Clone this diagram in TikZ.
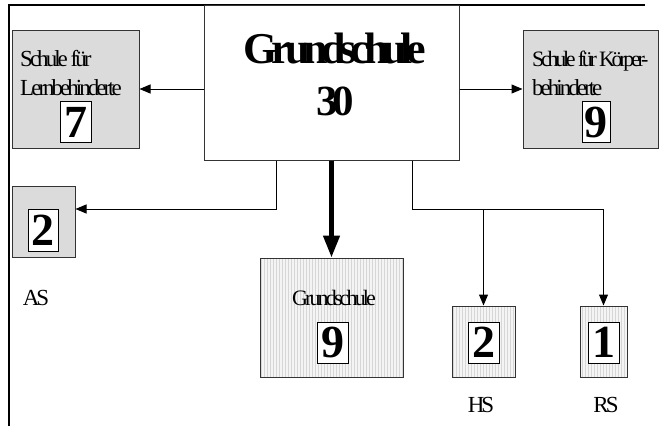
\documentclass[tikz,border=0pt]{standalone}
\usepackage{fontspec}
\setmainfont{Liberation Serif}
\newfontfamily\tightfont[LetterSpace=-13]{Liberation Serif}
\newfontfamily\tighterfont[LetterSpace=-15]{Liberation Serif}
\newfontfamily\tightbold[LetterSpace=-14]{Liberation Serif Bold}
\usetikzlibrary{patterns,arrows.meta}
\begin{document}
\begin{tikzpicture}[x=1pt,y=-1pt,
  box/.style={draw=black!80,line width=1pt,rectangle,inner sep=0pt,anchor=center},
  plainbox/.style={box,fill=gray!28},
  stripebox/.style={box,draw=none,fill=gray!9,postaction={pattern=vertical lines,pattern color=gray!32},postaction={draw=black!80,line width=1pt}},
  numbox/.style={draw=black,line width=0.9pt,fill=white,inner sep=0pt,minimum width=31pt,minimum height=41pt,font=\tightbold\fontsize{46}{46}\selectfont},
  smalltxt/.style={inner sep=0pt,font=\tightfont\fontsize{23}{23}\selectfont},
  conn/.style={line width=1pt,-{Triangle[length=11pt,width=9pt]}},
  thickconn/.style={line width=4.5pt,-{Triangle[length=22pt,width=16pt]}}
]
\useasboundingbox (0,0) rectangle (660,426);
% outer frame
\draw[line width=2pt] (645,5) -- (9,5) -- (9,426);
% main box
\node[box,fill=white,minimum width=255pt,minimum height=155pt] (main) at (331.5,82.5) {};
\node[inner sep=0pt,font=\tightbold\fontsize{44}{44}\selectfont,anchor=base] (mt1) at (335,63) {Grundschule};
\node[inner sep=0pt,font=\tightbold\fontsize{43}{43}\selectfont,anchor=base] (mt2) at (335,115) {30};
% Schule für Lernbehinderte
\node[plainbox,minimum width=127pt,minimum height=118pt] (lb) at (75.5,89) {};
\node[smalltxt,anchor=base west] (lbt1) at (20,66) {Schule für};
\node[smalltxt,anchor=base west] (lbt2) at (20,95) {Lernbehinderte};
\node[numbox] (lbn) at (75.5,122) {7};
% Schule für Körperbehinderte
\node[plainbox,minimum width=135pt,minimum height=118pt] (kb) at (590.5,89) {};
\node[smalltxt,anchor=base west,font=\tighterfont\fontsize{22}{22}\selectfont] (kbt1) at (532,66) {Schule für Körper-};
\node[smalltxt,anchor=base west] (kbt2) at (532,95) {behinderte};
\node[numbox,minimum width=28pt] (kbn) at (596,122) {9};
% AS
\node[plainbox,minimum width=63pt,minimum height=71pt] (as) at (43.5,221.5) {};
\node[numbox,minimum width=30pt,minimum height=42pt] (asn) at (43,230) {2};
\node[smalltxt,anchor=base] (ast) at (36,305) {AS};
% Grundschule 9
\node[stripebox,minimum width=143pt,minimum height=119pt] (gs) at (331.5,317.5) {};
\node[smalltxt,anchor=base,font=\tightfont\fontsize{22}{22}\selectfont] (gst) at (334,305) {Grundschule};
\node[numbox] (gsn) at (332.5,342.5) {9};
% HS
\node[stripebox,minimum width=63pt,minimum height=71pt] (hs) at (483.5,341.5) {};
\node[numbox] (hsn) at (483.5,342.5) {2};
\node[smalltxt,anchor=base] (hst) at (481,412) {HS};
% RS
\node[stripebox,minimum width=47pt,minimum height=71pt] (rs) at (603.5,341.5) {};
\node[numbox] (rsn) at (603.5,342.5) {1};
\node[smalltxt,anchor=base] (rst) at (606,412) {RS};
% connectors
\coordinate (ja) at (276,209);
\coordinate (jb) at (412,209);
\coordinate (jc) at (483.5,209);
\coordinate (jd) at (603.5,209);
\draw[conn] (main.west |- lb.east) -- (lb.east);
\draw[conn] (main.east |- kb.west) -- (kb.west);
\draw[conn] (main.south -| ja) -- (ja) -- (as.east |- ja);
\draw[thickconn] (main.south -| gs.north) -- (gs.north);
\draw[line width=1pt] (main.south -| jb) -- (jb) -- (jd);
\draw[conn] (jc) -- (hs.north);
\draw[conn] (jd) -- (rs.north);
\end{tikzpicture}
\end{document}
